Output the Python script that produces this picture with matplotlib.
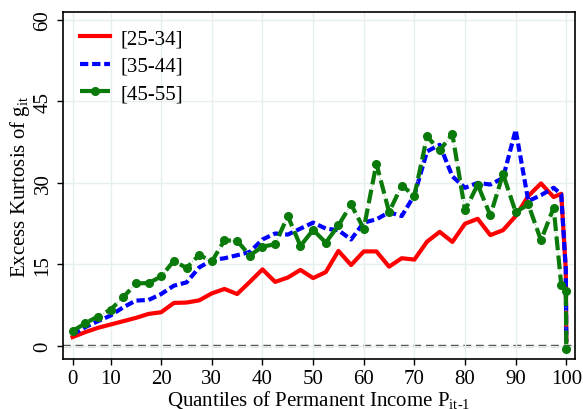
import numpy as np
import matplotlib as mpl
mpl.use('Agg')
import matplotlib.pyplot as plt

plt.rcParams['font.family'] = ['Liberation Serif', 'DejaVu Serif']
plt.rcParams['mathtext.fontset'] = 'custom'
plt.rcParams['mathtext.rm'] = 'Liberation Serif'
plt.rcParams['mathtext.it'] = 'Liberation Serif:italic'

# quantile positions (first point sits on the "0" tick)
quant = list(np.arange(2.5, 97.6, 2.5)) + [99, 99.9, 100]

age_25_34 = [1.65, 2.56, 3.35, 3.96, 4.57, 5.18, 5.91, 6.22, 7.93, 8.0,
             8.4, 9.69, 10.5, 9.57, 11.8, 14.1, 11.8, 12.6, 14.0, 12.5,
             13.6, 17.5, 14.9, 17.4, 17.4, 14.6, 16.15, 15.9, 19.2, 21.0,
             19.15, 22.5, 23.4, 20.4, 21.3, 23.9, 27.6, 29.9, 27.4, 28.0,
             14.0, 1.0]
age_35_44 = [2.14, 3.48, 4.57, 5.61, 7.13, 8.36, 8.47, 9.57, 11.1, 11.7,
             14.45, 15.8, 16.15, 16.7, 17.3, 19.6, 20.7, 20.5, 21.6, 22.7,
             21.6, 21.3, 19.6, 22.7, 23.3, 24.6, 23.9, 27.75, 35.8, 37.0,
             31.2, 29.1, 30.0, 29.7, 30.9, 39.75, 26.65, 27.75, 29.1, 27.9,
             14.0, 0.8]
age_45_55 = [2.74, 4.2, 5.43, 6.7, 8.96, 11.52, 11.58, 12.8, 15.67, 14.35,
             16.77, 15.55, 19.45, 19.33, 16.65, 18.29, 18.71, 23.9, 18.42, 21.35,
             19.02, 22.19, 26.03, 21.58, 33.53, 24.64, 29.5, 27.67, 38.54, 35.98,
             38.96, 24.93, 29.69, 24.02, 31.64, 24.64, 26.03, 19.44, 25.43, 11.25,
             10.06, -0.55]

xtick_pos = [2.5, 10, 20, 30, 40, 50, 60, 70, 80, 90, 100]
xtick_lab = ['0', '10', '20', '30', '40', '50', '60', '70', '80', '90', '100']
yticks = [0, 15, 30, 45, 60]

fig = plt.figure(figsize=(5.83, 4.10), dpi=100)
ax = fig.add_axes([0.108, 0.123, 0.879, 0.845])

ax.grid(True, color='#e6efef', lw=1.0, zorder=0)
ax.axhline(0, color='#333333', lw=1.7, ls=(0, (3.3, 2.0)), zorder=1)

ax.plot(quant, age_25_34, color='#ff0000', lw=3.0, label='[25-34]', zorder=3)
ax.plot(quant, age_35_44, color='#0000ff', lw=3.0, ls=(0, (2.0, 0.9)),
        label='[35-44]', zorder=4)
ax.plot(quant, age_45_55, color='#8fc88f', lw=0.8, ls=':', zorder=4.5)
ax.plot(quant, age_45_55, color='#0a7a0a', lw=3.0, ls=(0, (3.3, 1.3)),
        marker='o', ms=5.5, label='[45-55]', zorder=5)

ax.set_xlim(0.6, 101.8)
ax.set_ylim(-2.3, 61.4)
ax.set_xticks(xtick_pos)
ax.set_xticklabels(xtick_lab)
ax.set_yticks(yticks)
ax.tick_params(axis='both', labelsize=15, length=4.5, width=1.0, direction='out', pad=3)
for lab in ax.get_yticklabels():
    lab.set_rotation(90)
    lab.set_va('center')
for s in ax.spines.values():
    s.set_linewidth(1.2)
    s.set_color('black')

ax.set_xlabel('Quantiles of Permanent Income P$_{\\mathregular{it\\text{-}1}}$', fontsize=15, labelpad=0)
ax.set_ylabel('Excess Kurtosis of g$_{\\mathregular{it}}$', fontsize=15, labelpad=1)

leg = ax.legend(loc='upper left', frameon=False, fontsize=15, handlelength=1.45,
                handletextpad=0.5, borderaxespad=0.4, labelspacing=0.38, markerscale=1.0)
for h in leg.legend_handles:
    if h.get_marker() == 'o':
        h.set_markevery([1])

fig.savefig('out.png', dpi=100)
